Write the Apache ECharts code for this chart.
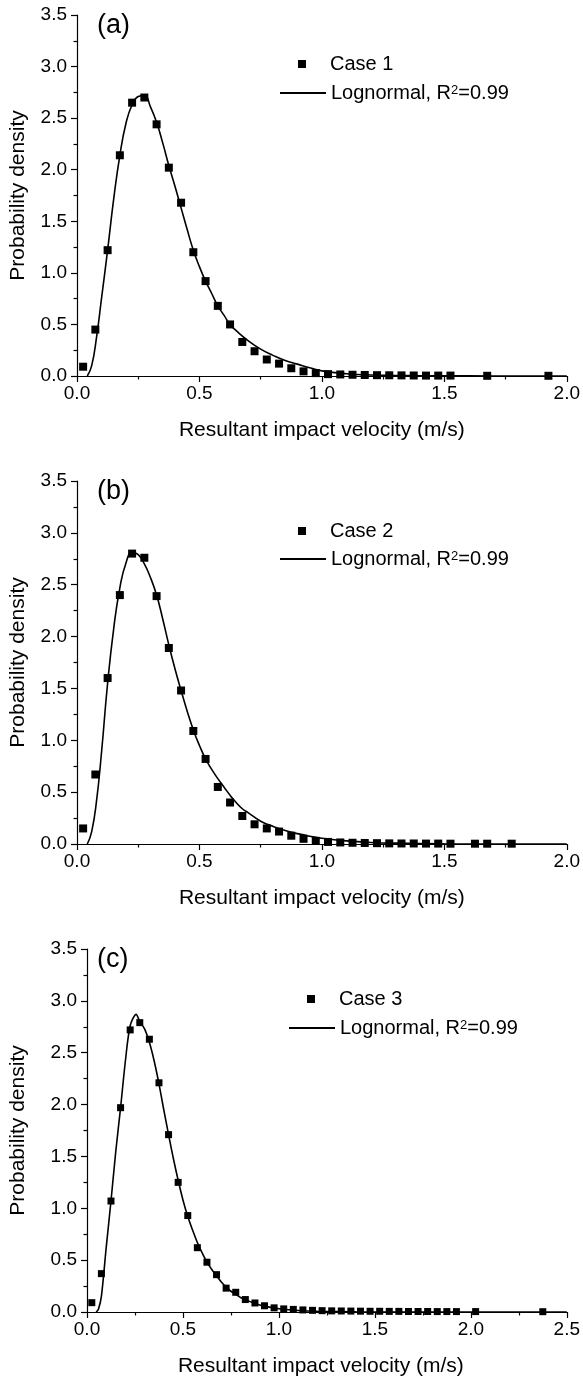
<!DOCTYPE html>
<html>
<head>
<meta charset="utf-8">
<script src="https://cdn.jsdelivr.net/npm/echarts@6/dist/echarts.min.js"></script>
<style>html,body{margin:0;padding:0;background:#fff}#c{width:583px;height:1381px}</style>
</head>
<body>
<div id="c"></div>
<script>
// ---------- data ----------
const panelLabels = ['(a)', '(b)', '(c)'];
const caseNames = ['Case 1', 'Case 2', 'Case 3'];
const fitNames = ['Lognormal (a)', 'Lognormal (b)', 'Lognormal (c)'];
const fitLabel = 'Lognormal, R{sup|2}=0.99';
const xTitle = 'Resultant impact velocity (m/s)';
const yTitle = 'Probability density';
const xMax = [2.0, 2.0, 2.5];

// Panel (a) - Case 1 histogram points
const caseA_x = [0.025,0.075,0.125,0.175,0.225,0.275,0.325,0.375,0.425,0.475,0.525,0.575,0.625,0.675,0.725,0.775,0.825,0.875,0.925,0.975,1.025,1.075,1.125,1.175,1.225,1.275,1.325,1.375,1.425,1.475,1.525,1.675,1.925];
const caseA_y = [0.09,0.45,1.22,2.14,2.65,2.70,2.44,2.02,1.68,1.20,0.92,0.68,0.50,0.33,0.24,0.16,0.12,0.075,0.045,0.028,0.018,0.015,0.012,0.010,0.008,0.007,0.006,0.005,0.004,0.004,0.004,0.002,0.002];
// Panel (a) - lognormal fit
const fitA_x = [0.042,0.06,0.08,0.1,0.125,0.15,0.175,0.2,0.225,0.25,0.275,0.3,0.325,0.35,0.375,0.4,0.425,0.45,0.475,0.5,0.525,0.55,0.575,0.6,0.625,0.65,0.7,0.75,0.8,0.85,0.9,0.95,1.0,1.1,1.2,1.3,1.4,1.6,1.8,2.0];
const fitA_y = [0,0.1,0.38,0.75,1.22,1.72,2.14,2.45,2.63,2.71,2.72,2.61,2.46,2.26,2.04,1.84,1.63,1.42,1.22,1.06,0.92,0.80,0.68,0.59,0.50,0.44,0.34,0.26,0.20,0.15,0.115,0.08,0.05,0.022,0.01,0.005,0.003,0.001,0,0];

// Panel (b) - Case 2 histogram points
const caseB_x = [0.025,0.075,0.125,0.175,0.225,0.275,0.325,0.375,0.425,0.475,0.525,0.575,0.625,0.675,0.725,0.775,0.825,0.875,0.925,0.975,1.025,1.075,1.125,1.175,1.225,1.275,1.325,1.375,1.425,1.475,1.525,1.625,1.675,1.775];
const caseB_y = [0.15,0.67,1.60,2.40,2.80,2.76,2.39,1.89,1.48,1.09,0.82,0.55,0.40,0.27,0.19,0.15,0.12,0.08,0.05,0.03,0.02,0.015,0.012,0.010,0.008,0.006,0.005,0.005,0.004,0.004,0.003,0.003,0.003,0.003];
// Panel (b) - lognormal fit
const fitB_x = [0.042,0.06,0.08,0.1,0.125,0.15,0.175,0.2,0.225,0.25,0.275,0.3,0.325,0.35,0.375,0.4,0.425,0.45,0.475,0.5,0.525,0.55,0.575,0.6,0.625,0.65,0.675,0.7,0.75,0.8,0.85,0.9,0.95,1.0,1.1,1.2,1.3,1.5,1.75,2.0];
const fitB_y = [0,0.12,0.42,0.88,1.55,2.08,2.47,2.71,2.81,2.79,2.70,2.57,2.40,2.17,1.92,1.69,1.48,1.28,1.10,0.95,0.82,0.72,0.63,0.55,0.47,0.40,0.34,0.30,0.22,0.17,0.13,0.10,0.075,0.055,0.03,0.015,0.008,0.002,0,0];

// Panel (c) - Case 3 histogram points
const caseC_x = [0.025,0.075,0.125,0.175,0.225,0.275,0.325,0.375,0.425,0.475,0.525,0.575,0.625,0.675,0.725,0.775,0.825,0.875,0.925,0.975,1.025,1.075,1.125,1.175,1.225,1.275,1.325,1.375,1.425,1.475,1.525,1.575,1.625,1.675,1.725,1.775,1.825,1.875,1.925,2.025,2.375];
const caseC_y = [0.09,0.37,1.07,1.97,2.72,2.79,2.63,2.21,1.71,1.25,0.93,0.62,0.48,0.36,0.23,0.19,0.12,0.087,0.06,0.04,0.03,0.025,0.02,0.016,0.013,0.011,0.010,0.009,0.008,0.007,0.007,0.006,0.006,0.005,0.005,0.005,0.004,0.004,0.004,0.004,0.003];
// Panel (c) - lognormal fit
const fitC_x = [0.048,0.06,0.075,0.1,0.125,0.15,0.175,0.2,0.225,0.256,0.275,0.3,0.325,0.35,0.375,0.4,0.425,0.45,0.475,0.5,0.525,0.55,0.575,0.6,0.625,0.65,0.675,0.7,0.725,0.75,0.775,0.8,0.85,0.9,0.95,1.0,1.1,1.2,1.4,1.7,2.0,2.5];
const fitC_y = [0,0.03,0.15,0.62,1.07,1.55,1.97,2.42,2.76,2.87,2.80,2.73,2.60,2.42,2.20,1.95,1.71,1.48,1.27,1.08,0.92,0.79,0.67,0.57,0.48,0.41,0.35,0.29,0.24,0.20,0.17,0.14,0.10,0.068,0.047,0.032,0.015,0.007,0.002,0,0,0];

// ---------- chart ----------
const FONT = '"Liberation Sans", Arial, Helvetica, sans-serif';
const zip = (xs, ys) => xs.map((x, i) => [x, ys[i]]);
const cases = [zip(caseA_x, caseA_y), zip(caseB_x, caseB_y), zip(caseC_x, caseC_y)];
const fits = [zip(fitA_x, fitA_y), zip(fitB_x, fitB_y), zip(fitC_x, fitC_y)];

const grids = [
  {left: 77, top: 15, width: 490, height: 361},
  {left: 77, top: 481, width: 490, height: 363},
  {left: 87, top: 949, width: 489, height: 363}
];
const markerSize = [8, 8, 7];
const yNameGap = [48, 48, 58];
const xNamePad = [[0,0,0,0], [0,0,0,0], [0,12,0,0]];

const axisCommon = {
  type: 'value',
  interval: 0.5,
  min: 0,
  axisLine: {show: true, lineStyle: {color: '#000', width: 1.2}},
  axisTick: {show: true, inside: false, length: 6, lineStyle: {color: '#000', width: 1.2}},
  minorTick: {show: true, splitNumber: 2, length: 3.5, lineStyle: {color: '#000', width: 1.2}},
  splitLine: {show: false},
  minorSplitLine: {show: false},
  axisLabel: {color: '#000', fontSize: 19, fontFamily: FONT, formatter: v => v.toFixed(1)},
  nameLocation: 'middle',
  nameTextStyle: {color: '#000', fontSize: 21, fontFamily: FONT}
};

const xAxis = grids.map((g, i) => Object.assign({}, axisCommon, {
  gridIndex: i, max: xMax[i], name: xTitle, nameGap: 44,
  nameTextStyle: Object.assign({}, axisCommon.nameTextStyle, {padding: xNamePad[i]}),
  axisLabel: Object.assign({}, axisCommon.axisLabel, {margin: 8, showMaxLabel: true})
}));
const yAxis = grids.map((g, i) => Object.assign({}, axisCommon, {
  gridIndex: i, max: 3.5, name: yTitle, nameGap: yNameGap[i],
  axisLabel: Object.assign({}, axisCommon.axisLabel, {margin: 10})
}));

const series = [];
for (let i = 0; i < 3; i++) {
  series.push({
    name: caseNames[i], type: 'scatter', xAxisIndex: i, yAxisIndex: i,
    symbol: 'rect', symbolSize: markerSize[i], itemStyle: {color: '#000', opacity: 1},
    data: cases[i], z: 3
  });
  series.push({
    name: fitNames[i], type: 'line', xAxisIndex: i, yAxisIndex: i,
    smooth: i === 2 ? 0.3 : 0.5, symbol: 'none', showSymbol: false,
    lineStyle: {color: '#000', width: 1.6}, itemStyle: {color: '#000'},
    data: fits[i], z: 2
  });
}

const legendTextStyle = {color: '#000', fontSize: 20, fontFamily: FONT, lineHeight: 18,
  rich: {sup: {fontSize: 13, fontFamily: FONT, color: '#000', verticalAlign: 'top', lineHeight: 11}}};
const caseLegendTops = [54, 521, 989];
const fitLegendTops = [83, 549, 1018];
const lineLegendLefts = [279, 279, 288];
const legend = [];
for (let i = 0; i < 3; i++) {
  legend.push({
    left: lineLegendLefts[i] + 19, top: caseLegendTops[i], padding: 0,
    itemWidth: 46, itemHeight: 8, symbolKeepAspect: true, selectedMode: false,
    data: [{name: caseNames[i], icon: 'path://M0,0L10,0L10,10L0,10Z'}],
    textStyle: legendTextStyle
  });
  legend.push({
    left: lineLegendLefts[i], top: fitLegendTops[i], padding: 0,
    itemWidth: 46, itemHeight: 1, selectedMode: false,
    data: [fitNames[i]],
    formatter: () => fitLabel,
    textStyle: legendTextStyle
  });
}

const title = panelLabels.map((t, i) => ({
  text: t, left: 97, top: grids[i].top - 3, padding: 0,
  textStyle: {color: '#000', fontSize: 27, fontWeight: 'normal', fontFamily: FONT}
}));

const chart = echarts.init(document.getElementById('c'), null, {renderer: 'canvas'});
chart.setOption({
  animation: false,
  backgroundColor: '#fff',
  title, legend, grid: grids, xAxis, yAxis, series
});
</script>
</body>
</html>
